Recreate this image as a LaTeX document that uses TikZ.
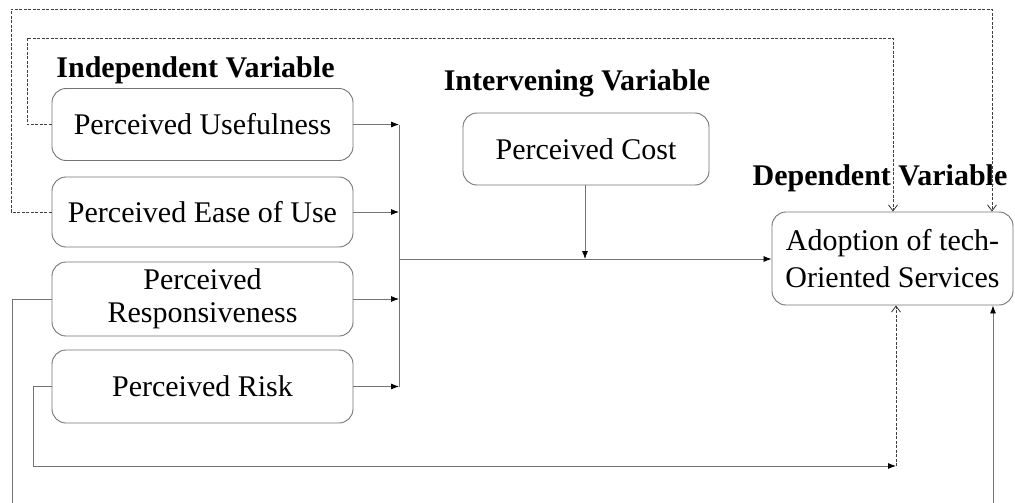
\documentclass[tikz,border=0pt]{standalone}
\usepackage{fontspec}
\setmainfont{Liberation Serif}
\usetikzlibrary{arrows.meta,calc}
\begin{document}
\begin{tikzpicture}[x=1pt,y=-1pt,
  varbox/.style={draw=black!55,line width=0.9pt,rounded corners=14pt,
    minimum width=301pt,minimum height=72pt,align=center,inner sep=2pt,
    font=\fontsize{30}{32}\selectfont},
  heading/.style={font=\fontsize{30}{32}\selectfont\bfseries,inner sep=0pt},
  link/.style={draw=black!55,line width=0.8pt},
  filltip/.style={-{Latex[length=8pt,width=6pt,color=black]}},
  opentip/.style={-{Straight Barb[length=6pt,width=9pt,color=black!80]}},
  loop/.style={draw=black!75,line width=0.8pt,dash pattern=on 3pt off 1.5pt}
]
\useasboundingbox (0,0) rectangle (1015,503);

% headings
\node[heading] (hind) at (195.5,70) {Independent Variable};
\node[heading] (hint) at (577,83) {Intervening Variable};
\node[heading] (hdep) at (880,178) {Dependent Variable};

% variable boxes
\node[varbox] (pu)   at (202.5,124.5) {Perceived Usefulness};
\node[varbox,minimum height=70pt] (eou)  at (202.5,212) {Perceived Ease of Use};
\node[varbox,minimum height=74pt,font=\fontsize{30}{32.5}\selectfont] (resp) at (202.5,299)
  {Perceived\\Responsiveness};
\node[varbox,minimum height=73pt] (risk) at (202.5,386.5) {Perceived Risk};
\node[varbox,minimum width=246pt] (cost) at (586,149) {Perceived Cost};
\node[varbox,minimum width=241pt,minimum height=93pt,font=\fontsize{30}{37.5}\selectfont]
  (adopt) at (892.5,258.5) {Adoption of tech-\\Oriented Services};

% collector bar
\coordinate (c1) at (399,124.5);
\coordinate (c2) at (399,212);
\coordinate (c3) at (399,299);
\coordinate (c4) at (399,386.5);
\coordinate (cm) at (399,259);
\coordinate (cc) at (585,259);

\draw[link,filltip] (pu.east)   -- (c1);
\draw[link,filltip] (eou.east)  -- (c2);
\draw[link,filltip] (resp.east) -- (c3);
\draw[link,filltip] (risk.east) -- (c4);
\draw[link] (c1) -- (c4);
\draw[link,filltip] (cm) -- (adopt.west |- cm);
\draw[link,filltip] (cost.south -| cc) -- (cc);

% feedback loops over the top
\coordinate (t1) at (27,38);
\coordinate (t2) at (893,38);
\coordinate (o1) at (11,9);
\coordinate (o2) at (992,9);
\draw[loop,opentip] (pu.west) -| (t1) -- (t2) -- (t2 |- adopt.north);
\draw[loop,opentip] (eou.west) -| (o1) -- (o2) -- (o2 |- adopt.north);

% loops underneath
\coordinate (r1) at (33,466);
\coordinate (r2) at (896,466);
\draw[link,filltip] (risk.west) -| (r1) -- (r2);
\draw[loop,opentip] (r2) -- (r2 |- adopt.south);

\coordinate (b1) at (12,512);
\coordinate (b2) at (993,512);
\draw[link,filltip] (resp.west) -| (b1) -- (b2) -- (b2 |- adopt.south);
\end{tikzpicture}
\end{document}
